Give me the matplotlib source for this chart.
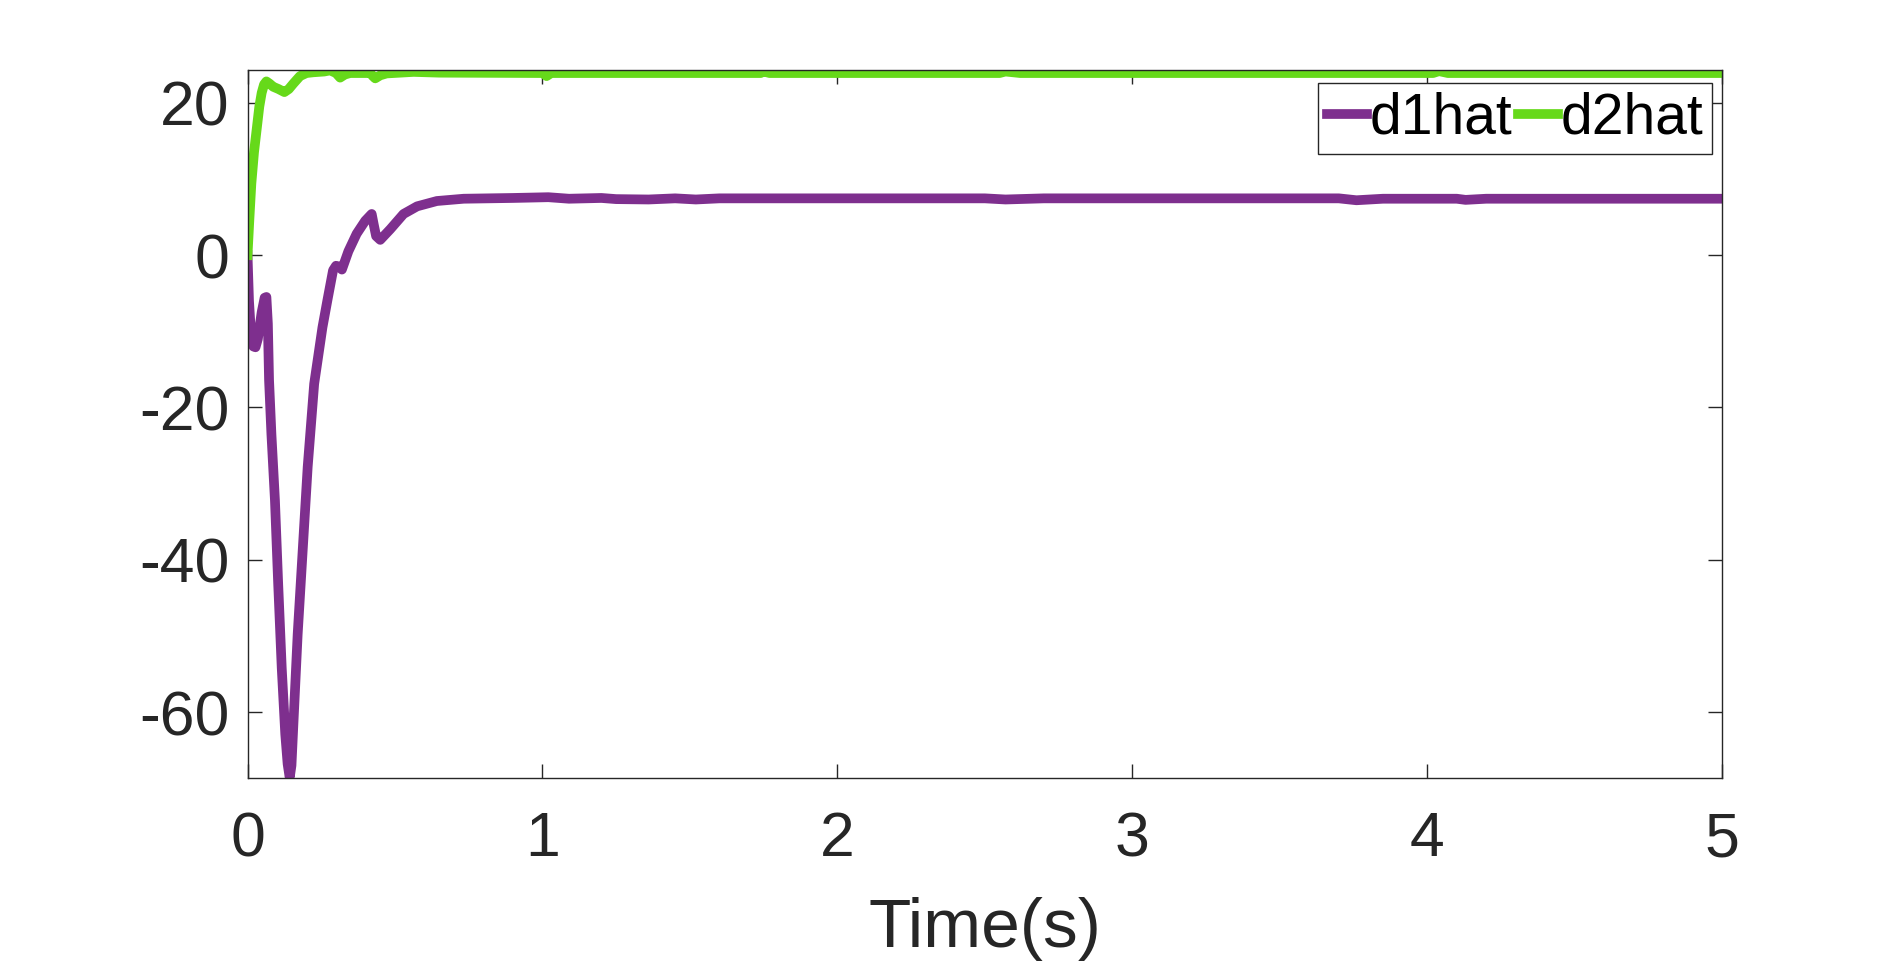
import matplotlib
matplotlib.use("Agg")
import matplotlib.pyplot as plt

# d1hat estimate (time in s, value)
t1 = [0.000, 0.005, 0.012, 0.020, 0.027, 0.035, 0.048, 0.058, 0.064, 0.069,
      0.073, 0.081, 0.093, 0.104, 0.116, 0.128, 0.136, 0.143, 0.149, 0.155,
      0.170, 0.187, 0.204, 0.226, 0.254, 0.271, 0.290, 0.300, 0.310, 0.320,
      0.342, 0.370, 0.399, 0.421, 0.428, 0.436, 0.450, 0.484, 0.529, 0.575,
      0.642, 0.733, 0.900, 1.020, 1.090, 1.200, 1.250, 1.360, 1.450, 1.520,
      1.600, 2.500, 2.570, 2.700, 3.700, 3.760, 3.850, 4.100, 4.130, 4.200,
      5.000]
d1hat = [0.0, -6.0, -10.5, -12.0, -12.1, -11.0, -7.5, -5.6, -5.5, -9.0,
         -16.4, -23.5, -32.2, -43.2, -54.2, -62.9, -66.8, -68.6, -67.0, -62.0,
         -49.8, -38.8, -27.8, -16.9, -9.5, -5.9, -2.0, -1.4, -1.5, -1.9,
         0.5, 2.8, 4.5, 5.4, 4.0, 2.5, 2.0, 3.4, 5.4, 6.4,
         7.1, 7.4, 7.5, 7.6, 7.4, 7.5, 7.35, 7.3, 7.45, 7.3,
         7.45, 7.45, 7.3, 7.45, 7.45, 7.2, 7.4, 7.4, 7.25, 7.4,
         7.4]

# d2hat estimate
t2 = [0.000, 0.006, 0.013, 0.022, 0.031, 0.040, 0.048, 0.056, 0.064, 0.075,
      0.087, 0.105, 0.125, 0.140, 0.155, 0.178, 0.200, 0.223, 0.260, 0.280,
      0.300, 0.314, 0.330, 0.348, 0.416, 0.425, 0.433, 0.450, 0.472, 0.563,
      0.650, 1.000, 1.014, 1.030, 1.740, 1.750, 1.770, 2.550, 2.570, 2.620,
      4.020, 4.040, 4.070, 5.000]
d2hat = [0.0, 4.5, 9.4, 13.5, 16.5, 19.5, 21.3, 22.4, 22.8, 22.5,
         22.1, 21.8, 21.4, 21.8, 22.5, 23.5, 23.9, 24.0, 24.1, 24.25,
         23.9, 23.3, 23.7, 23.9, 23.9, 23.5, 23.2, 23.6, 23.85, 24.05,
         23.95, 23.9, 23.5, 23.9, 23.9, 24.1, 23.9, 23.9, 24.1, 23.9,
         23.9, 24.15, 23.9, 23.9]

x_ticks = [0, 1, 2, 3, 4, 5]
y_ticks = [-60, -40, -20, 0, 20]

plt.rcParams['font.family'] = ['Liberation Sans', 'DejaVu Sans']
plt.rcParams['axes.unicode_minus'] = False
axis_color = '#262626'

fig = plt.figure(figsize=(19.04, 9.64), dpi=100)
ax = fig.add_axes([0.130, 0.1925, 0.7745, 0.7345])

ax.plot(t1, d1hat, color='#7E2F8E', linewidth=7, label='d1hat')
ax.plot(t2, d2hat, color='#66D91A', linewidth=7, label='d2hat')

ax.set_xlim(0, 5)
ax.set_ylim(-68.7, 24.25)
ax.set_xticks(x_ticks)
ax.set_yticks(y_ticks)

ax.tick_params(direction='in', length=10, width=1.0, colors=axis_color,
               labelsize=45, top=True, right=True)
ax.tick_params(axis='x', pad=23)
ax.tick_params(axis='y', pad=13)
for s in ax.spines.values():
    s.set_color(axis_color)
    s.set_linewidth(1.0)

ax.set_xlabel('Time(s)', fontsize=50, color=axis_color, labelpad=20)

leg = ax.legend(loc='upper right', bbox_to_anchor=(0.9932, 0.982), ncol=2,
                fontsize=41, frameon=True, fancybox=False, borderaxespad=0,
                handlelength=0.7, handletextpad=0.05, columnspacing=0.1,
                borderpad=0.15)
leg.get_frame().set_edgecolor(axis_color)
leg.get_frame().set_linewidth(1.0)
leg.get_frame().set_alpha(1)

fig.savefig('out.png', dpi=100, facecolor='white')
